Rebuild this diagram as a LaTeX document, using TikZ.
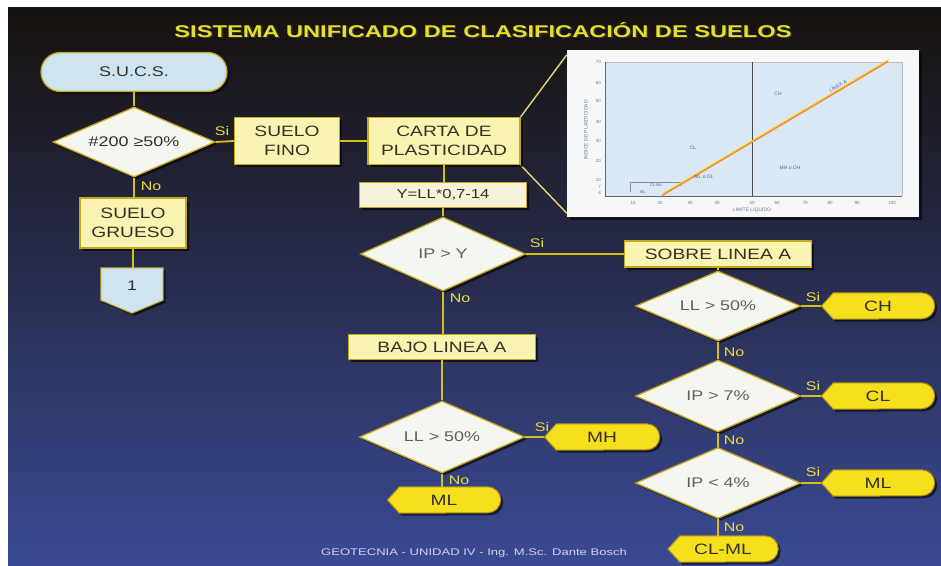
\documentclass[tikz,border=0pt]{standalone}
\usepackage{fontspec}
\setmainfont{Liberation Sans}
\usetikzlibrary{shapes.geometric,shapes.misc,shadows}
\pgfdeclarelayer{bg}
\pgfdeclarelayer{background}
\pgfsetlayers{bg,background,main}
\newcommand\sx[1]{\scalebox{1.28}[1]{#1}}
\definecolor{bgtop}{RGB}{22,17,12}
\definecolor{bgmid}{RGB}{36,44,92}
\definecolor{bgbot}{RGB}{58,74,148}
\definecolor{linecol}{RGB}{214,192,24}
\definecolor{boxedge}{RGB}{196,168,30}
\definecolor{boxfill}{RGB}{250,244,178}
\definecolor{diafill}{RGB}{246,246,240}
\definecolor{dispcol}{RGB}{246,224,30}
\definecolor{dispedge}{RGB}{170,140,20}
\definecolor{sucsfill}{RGB}{206,228,240}
\definecolor{yfill}{RGB}{246,243,218}
\definecolor{txt}{RGB}{52,48,40}
\definecolor{diatxt}{RGB}{95,95,95}
\definecolor{labcol}{RGB}{236,222,60}
\definecolor{titlecol}{RGB}{232,222,40}
\definecolor{footcol}{RGB}{214,208,240}
\definecolor{plotblue}{RGB}{218,232,246}
\definecolor{chartwhite}{RGB}{246,247,248}
\definecolor{aline}{RGB}{236,140,70}
\definecolor{charttxt}{RGB}{110,120,140}
\newcommand\dispshape[1]{\path[dispfill] (#1.west) -- ([xshift=12pt]#1.north west) -- ([xshift=-13pt]#1.north east) arc[start angle=90,end angle=-90,radius=13pt] -- ([xshift=12pt]#1.south west) -- cycle;}
\begin{document}
\begin{tikzpicture}[x=1pt,y=-1pt,
  shad/.style={drop shadow={shadow xshift=2.5pt,shadow yshift=-2.5pt,opacity=.6,fill=black}},
  box/.style={rectangle,draw=boxedge,fill=boxfill,line width=1.3pt,text=txt,
    font=\fontsize{15}{19.5}\selectfont,align=center,inner sep=0pt,shad},
  dia/.style={diamond,aspect=2.4,draw=boxedge,fill=diafill,line width=1.3pt,text=diatxt,
    font=\fontsize{14}{16}\selectfont,inner sep=0pt,shad},
  disptext/.style={rectangle,inner sep=0pt,minimum height=26pt,text=txt,
    font=\fontsize{15}{16}\selectfont},
  dispfill/.style={fill=dispcol,draw=dispedge,line width=1pt,shad},
  offfill/.style={fill=sucsfill,draw=boxedge,line width=1pt,shad},
  conn/.style={draw=linecol,line width=1.8pt},
  callout/.style={draw=linecol!60!white,line width=1.4pt},
  lab/.style={text=labcol,font=\fontsize{12.5}{13}\selectfont,inner sep=0pt},
  tick/.style={text=charttxt,font=\fontsize{4.5}{5}\selectfont,inner sep=0pt},
  clab/.style={text=charttxt!80!blue,font=\fontsize{5}{6}\selectfont,inner sep=0pt}
]
\useasboundingbox (0,0) rectangle (941,565);
\begin{pgfonlayer}{bg}
  \fill[white] (0,0) rectangle (941,565);
  \shade[top color=bgtop,middle color=bgmid,bottom color=bgbot] (8,7) rectangle (941,565);
\end{pgfonlayer}

% title and footer
\node[text=black!80,font=\fontsize{17}{18}\bfseries] (titsh) at (484.5,31.5) {\scalebox{1.39}[1]{SISTEMA UNIFICADO DE CLASIFICACIÓN DE SUELOS}};
\node[text=titlecol,font=\fontsize{17}{18}\bfseries] (title) at (483,30) {\scalebox{1.39}[1]{SISTEMA UNIFICADO DE CLASIFICACIÓN DE SUELOS}};
\node[text=footcol,font=\fontsize{9.6}{11}\selectfont] (foot) at (474,553) {\scalebox{1.36}[1]{GEOTECNIA - UNIDAD IV - Ing. M.Sc. Dante Bosch}};

% chart
\node[rectangle,fill=chartwhite,minimum width=352pt,minimum height=167pt,inner sep=0pt,shad] (chart) at (743,133.5) {};
\fill[plotblue] (605,62) rectangle (902,196);
\draw[black!25,line width=.6pt] (605,62) -- (902,62) -- (902,196);
\draw[black!60,line width=.8pt] (605,62) -- (605,196) -- (902,196);
\draw[black!70,line width=1pt] (752,62) -- (752,196);
\draw[black!45,line width=.5pt] (630,192) -- (630,182) -- (680,182) -- (680,186);
\draw[yellow!80!orange,line width=1pt] (663,193.5) -- (889,59.5);
\draw[aline,line width=1.5pt] (662,195.5) -- (888,61.5);
\foreach \v/\yy in {10/180,20/161,30/141,40/122,50/101,60/83,70/62}
  \node[tick,anchor=east] (yt\v) at (601,\yy) {\v};
\node[tick,anchor=east] (yt7) at (601,187) {7};
\node[tick,anchor=east] (yt4) at (601,193) {4};
\foreach \v/\xx in {10/633,20/660,30/690,40/717,50/752,60/777,70/805,80/830,90/857,100/892}
  \node[tick] (xt\v) at (\xx,202.5) {\v};
\node[clab,text=charttxt] (xtitle) at (752,210) {LIMITE LIQUIDO};
\node[clab,text=charttxt,rotate=90] (ytitle) at (586,130) {INDICE DE PLASTICIDAD};
\node[clab] (chlab) at (778,94) {CH};
\node[clab] (cllab) at (693,148) {CL};
\node[clab] (mhlab) at (790,168) {MH o OH};
\node[clab] (mllab) at (704,177) {ML o OL};
\node[clab,rotate=30] (alab) at (838,86) {LINEA A};
\node[clab,font=\fontsize{4}{5}\selectfont] (clmllab) at (656,185.5) {CL-ML};
\node[clab,font=\fontsize{4}{5}\selectfont] (mlsmall) at (643,192.5) {ML};

% left column
\node[rounded rectangle,draw=boxedge,fill=sucsfill,line width=1.3pt,minimum width=186pt,minimum height=39pt,
  inner sep=0pt,text=txt,font=\fontsize{14}{16}\selectfont,shad] (sucs) at (134,72) {\sx{S.U.C.S.}};
\node[dia,minimum width=162pt,minimum height=70pt,text=txt] (d1) at (134,142) {\sx{\#200 ≥50\%}};
\node[box,minimum width=105pt,minimum height=47pt] (fino) at (287,141) {\sx{SUELO}\\\sx{FINO}};
\node[box,minimum width=152pt,minimum height=47pt] (carta) at (444,141) {\sx{CARTA DE}\\\sx{PLASTICIDAD}};
\node[box,minimum width=106pt,minimum height=50pt] (grueso) at (133,223) {\sx{SUELO}\\\sx{GRUESO}};
\node[rectangle,inner sep=0pt,minimum width=62pt,minimum height=45pt] (off) at (132,290.5) {};
\node[text=txt,font=\fontsize{14}{16}\selectfont,inner sep=0pt] (offt) at (132,286) {\sx{1}};

% middle column
\node[box,fill=yfill,minimum width=167pt,minimum height=25pt,font=\fontsize{13}{15}\selectfont] (ybox) at (443,195) {\sx{Y=LL*0,7-14}};
\node[dia,minimum width=165pt,minimum height=74pt] (d2) at (443,254) {\sx{IP > Y}};
\node[box,minimum width=187pt,minimum height=25pt] (bajo) at (442,347) {\sx{BAJO LINEA A}};
\node[dia,minimum width=165pt,minimum height=72pt] (d3) at (442,437) {\sx{LL > 50\%}};
\node[disptext,minimum width=115pt] (mh) at (602,437) {\sx{MH}};
\node[disptext,minimum width=113pt] (ml1) at (444,500) {\sx{ML}};

% right column
\node[box,minimum width=187pt,minimum height=26pt] (sobre) at (718,254) {\sx{SOBRE LINEA A}};
\node[dia,minimum width=165pt,minimum height=70pt] (d4) at (718,306) {\sx{LL > 50\%}};
\node[disptext,minimum width=113pt] (ch) at (878,306) {\sx{CH}};
\node[dia,minimum width=165pt,minimum height=72pt] (d5) at (718,396) {\sx{IP > 7\%}};
\node[disptext,minimum width=113pt] (cl) at (878,396) {\sx{CL}};
\node[dia,minimum width=165pt,minimum height=71pt] (d6) at (718,483) {\sx{IP < 4\%}};
\node[disptext,minimum width=113pt] (ml2) at (878,483) {\sx{ML}};
\node[disptext,minimum width=110pt] (clml) at (723,549) {\sx{CL-ML}};

\begin{pgfonlayer}{background}
  \dispshape{mh}\dispshape{ml1}\dispshape{ch}\dispshape{cl}\dispshape{ml2}\dispshape{clml}
  \path[offfill] (off.north west) -- (off.north east) -- ([yshift=13pt]off.south east) -- (off.south) -- ([yshift=13pt]off.south west) -- cycle;
  \draw[callout] (carta.north east) -- ([yshift=-5pt]chart.north west);
  \draw[callout] (carta.south east) -- ([yshift=4pt]chart.south west);
\end{pgfonlayer}

% connectors
\draw[conn] (sucs.south) -- (d1.north);
\draw[conn] (d1.east) -- (fino.west);
\draw[conn] (fino.east) -- (carta.west);
\draw[conn] (d1.south) -- (d1.south |- grueso.north);
\draw[conn] (grueso.south) -- (grueso.south |- off.north);
\draw[conn] (carta.south) -- (carta.south |- ybox.north);
\draw[conn] (ybox.south) -- (ybox.south |- d2.north);
\draw[conn] (d2.east) -- (sobre.west);
\draw[conn] (d2.south) -- (d2.south |- bajo.north);
\draw[conn] (bajo.south) -- (bajo.south |- d3.north);
\draw[conn] (d3.east) -- (mh.west);
\draw[conn] (d3.south) -- (d3.south |- ml1.north);
\draw[conn] (sobre.south) -- (d4.north);
\draw[conn] (d4.east) -- (ch.west);
\draw[conn] (d4.south) -- (d5.north);
\draw[conn] (d5.east) -- (cl.west);
\draw[conn] (d5.south) -- (d6.north);
\draw[conn] (d6.east) -- (ml2.west);
\draw[conn] (d6.south) -- (d6.south |- clml.north);

% Si / No labels
\node[lab] (si1) at (222,131) {\sx{Si}};
\node[lab] (no1) at (151,186) {\sx{No}};
\node[lab] (si2) at (537,243) {\sx{Si}};
\node[lab] (no2) at (460,298) {\sx{No}};
\node[lab] (si3) at (542,427) {\sx{Si}};
\node[lab] (no3) at (459,480) {\sx{No}};
\node[lab] (si4) at (813,297) {\sx{Si}};
\node[lab] (no4) at (734,352) {\sx{No}};
\node[lab] (si5) at (813,386) {\sx{Si}};
\node[lab] (no5) at (734,440) {\sx{No}};
\node[lab] (si6) at (813,472) {\sx{Si}};
\node[lab] (no6) at (734,527) {\sx{No}};
\end{tikzpicture}
\end{document}
